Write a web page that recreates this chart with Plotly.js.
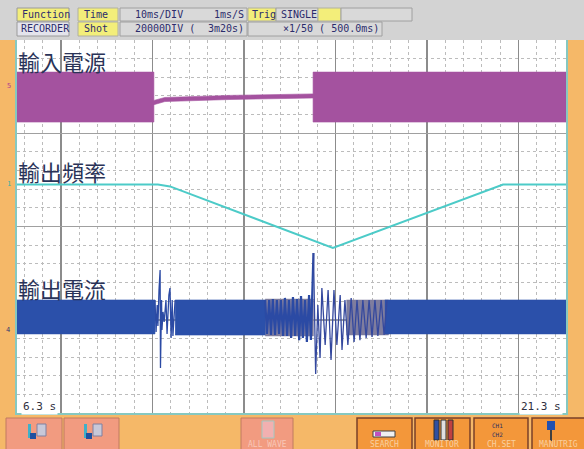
<!DOCTYPE html>
<html><head><meta charset="utf-8">
<script src="https://cdn.plot.ly/plotly-3.0.1.min.js"></script>
<style>html,body{margin:0;padding:0;background:#f5b868;}#chart{width:584px;height:449px;}</style>
</head><body><div id="chart"></div>
<script>
// ---------- data (time in s, value in grid units: 4 divisions x 5) ----------
const timeRange = [6.3, 21.3];
const valueRange = [0, 20];
const timeLabels = ['6.3 s', '21.3 s'];
const channelNames = ['輸入電源', '輸出頻率', '輸出電流'];

// input power envelope (upper edge left->right, lower edge right->left)
const inUpT = [6.3, 10.04, 10.04, 10.34, 12.12, 14.39, 14.39, 21.3];
const inUpV = [18.28, 18.28, 16.76, 16.92, 17.03, 17.11, 18.28, 18.28];
const inLoT = [21.3, 14.39, 14.39, 12.12, 10.34, 10.04, 10.04, 6.3];
const inLoV = [15.60, 15.60, 16.89, 16.81, 16.70, 16.53, 15.60, 15.60];

// output frequency
const freqT = [6.3, 10.15, 10.48, 14.93, 19.58, 21.3];
const freqV = [12.25, 12.25, 12.15, 8.85, 12.25, 12.25];

// output current: steady envelope segments
const curSegStart = [6.3, 10.62, 16.35];
const curSegEnd   = [10.07, 13.08, 21.3];
const curHi = [6.06, 6.06, 6.06];
const curLo = [4.24, 4.18, 4.24];
// beat (grey) envelope segments
const beatSegStart = [13.08, 15.30];
const beatSegEnd   = [14.40, 16.45];
const beatHi = [6.11, 6.06];
const beatLo = [4.13, 4.18];
// transient 1 oscillation
const osc1T = [10.07,10.10,10.13,10.15,10.18,10.21,10.22,10.25,10.26,10.29,10.32,10.37,10.40,10.45,10.48,10.51,10.54,10.56,10.62];
const osc1V = [6.06,4.34,5.79,4.67,6.60,7.67,2.41,6.06,4.45,5.42,4.88,6.06,4.24,6.33,6.70,4.02,6.06,4.13,6.06];
// transient 2 oscillation: build-up before the spike
const osc2aT = [13.08,13.13,13.19,13.24,13.29,13.35,13.40,13.46,13.51,13.57,13.62,13.68,13.73,13.79,13.84,13.90,13.95,14.01,14.06,14.11,14.17,14.22,14.28,14.33,14.40];
const osc2aV = [6.06,4.24,6.06,4.18,6.11,4.18,6.06,4.24,6.06,4.13,6.17,4.13,6.06,4.02,6.22,4.13,6.11,3.91,6.27,4.02,6.06,3.81,6.33,3.91,8.58];
// transient 2 oscillation: spike and decay
const osc2bT = [14.40,14.46,14.52,14.58,14.63,14.72,14.80,14.88,14.96,15.04,15.13,15.18,15.26,15.34,15.43,15.51,15.59,15.67,15.75,15.84,15.92,16.00,16.08,16.16,16.25,16.33,16.41];
const osc2bV = [8.58,2.09,5.79,2.95,6.70,3.65,6.60,2.84,6.60,3.65,6.33,3.38,6.06,3.65,6.17,3.81,6.06,3.91,6.06,4.02,6.06,4.08,6.06,4.13,6.06,4.18,6.06];

// ---------- geometry helpers (layout only) ----------
const L = 17, T = 40, W = 549, H = 373;
const px = x => (x - L) / W;
const py = y => (T + H - y) / H;
function rect(x0, y0, x1, y1, fill, line, lw) {
  return {type:'rect', xref:'paper', yref:'paper', x0:px(x0), x1:px(x1), y0:py(y1), y1:py(y0),
          fillcolor:fill, line:{color:line || fill, width: lw === undefined ? 1 : lw}, layer:'above'};
}
function txt(x, y, s, o) {
  o = o || {};
  return {xref:'paper', yref:'paper', x:px(x), y:py(y), text:s, showarrow:false,
          xanchor:o.xa || 'left', yanchor:'middle', bgcolor:o.bg,
          font:{family:o.family || 'DejaVu Sans Mono', size:o.size || 10, color:o.color || '#2c2c6c'}};
}

// ---------- traces ----------
const traces = [];
traces.push({x: inUpT.concat(inLoT), y: inUpV.concat(inLoV), mode:'lines', fill:'toself',
             fillcolor:'#a4529f', line:{color:'#a4529f', width:0.6}});
traces.push({x: freqT, y: freqV, mode:'lines', line:{color:'#4ccbc8', width:2}});
beatSegStart.forEach((s, i) => {
  traces.push({x:[s, beatSegEnd[i], beatSegEnd[i], s], y:[beatHi[i], beatHi[i], beatLo[i], beatLo[i]],
               mode:'lines', fill:'toself', fillcolor:'#7f7d9e', line:{color:'#7f7d9e', width:0.5}});
});
curSegStart.forEach((s, i) => {
  traces.push({x:[s, curSegEnd[i], curSegEnd[i], s], y:[curHi[i], curHi[i], curLo[i], curLo[i]],
               mode:'lines', fill:'toself', fillcolor:'#2b50aa', line:{color:'#2b50aa', width:0.6}});
});
traces.push({x: osc1T, y: osc1V, mode:'lines', line:{color:'#2b4aa4', width:1.3}});
traces.push({x: osc2aT, y: osc2aV, mode:'lines', line:{color:'#2b4aa4', width:2.2}});
traces.push({x: osc2bT, y: osc2bV, mode:'lines', line:{color:'#34489e', width:1.3}});

// ---------- decorations ----------
const shapes = [
  rect(0, 0, 584, 40, '#d3d3d3', '#d3d3d3', 0),
  rect(17, 8, 69, 21, '#f3ee7a', '#9a9a9a'),
  rect(17, 22, 69, 36, '#e4e4ec', '#9a9a9a'),
  rect(78, 8, 118, 21, '#f3ee7a', '#b0b0a0'),
  rect(78, 22, 118, 36, '#f3ee7a', '#b0b0a0'),
  rect(120, 8, 247, 21, '#d9d9d9', '#a0a0a0'),
  rect(120, 22, 247, 36, '#d9d9d9', '#a0a0a0'),
  rect(248, 8, 276, 21, '#f3ee7a', '#b0b0a0'),
  rect(276, 8, 318, 21, '#d9d9d9', '#a0a0a0'),
  rect(318, 8, 341, 21, '#f3ee7a', '#b0b0a0'),
  rect(341, 8, 412, 21, '#d9d9d9', '#a0a0a0'),
  rect(248, 22, 382, 36, '#d9d9d9', '#a0a0a0'),
  // bottom buttons
  rect(6, 418, 62, 452, '#f29b80', '#c07a60'),
  rect(64, 418, 119, 452, '#f29b80', '#c07a60'),
  rect(241, 418, 293, 452, '#f29b80', '#c07a60'),
  rect(357, 418, 412, 452, '#f3973a', '#7a4028', 1.5),
  rect(415, 418, 470, 452, '#f3973a', '#7a4028', 1.5),
  rect(474, 418, 528, 452, '#f3973a', '#7a4028', 1.5),
  rect(532, 418, 590, 452, '#f3973a', '#7a4028', 1.5),
  // simple icons
  rect(28, 424, 31, 438, '#3fb0c8', '#3fb0c8', 0),
  rect(30, 433, 36, 439, '#2050a0', '#2050a0', 0),
  rect(37, 424, 46, 436, '#c8c8d8', '#8080a0', 1),
  rect(84, 424, 87, 438, '#3fb0c8', '#3fb0c8', 0),
  rect(86, 433, 92, 439, '#2050a0', '#2050a0', 0),
  rect(93, 424, 102, 436, '#c8c8d8', '#8080a0', 1),
  rect(262, 421, 274, 438, '#f2b0b0', '#a0c8c0', 1),
  rect(373, 431, 395, 437, '#f0f0f0', '#404040', 1),
  rect(375, 432, 381, 436, '#c050c0', '#c050c0', 0),
  rect(434, 420, 439, 440, '#3050a0', '#303030', 1),
  rect(441, 420, 446, 440, '#e0e0e0', '#303030', 1),
  rect(448, 420, 453, 440, '#c04040', '#303030', 1),
  rect(547, 421, 555, 430, '#2050b0', '#2050b0', 0),
  rect(550, 430, 552, 441, '#404040', '#404040', 0)
];

const annotations = [
  txt(20, 15, 'Function'), txt(19, 29, 'RECORDER'),
  txt(82, 15, 'Time'), txt(82, 29, 'Shot'),
  txt(133, 15, '10ms/DIV'), txt(246, 15, '1ms/S', {xa:'right'}),
  txt(133, 29, '20000DIV ('), txt(246, 29, '3m20s)', {xa:'right'}),
  txt(250, 15, 'Trig'), txt(279, 15, 'SINGLE'),
  txt(381, 29, '×1/50 ( 500.0ms)', {xa:'right'}),
  txt(21, 406, timeLabels[0], {size:11, color:'#303040', bg:'#ffffff'}),
  txt(563, 406, timeLabels[1], {xa:'right', size:11, color:'#303040', bg:'#ffffff'}),
  txt(16, 61, channelNames[0], {family:'Noto Sans CJK TC', size:22, color:'#2a3358'}),
  txt(16, 171, channelNames[1], {family:'Noto Sans CJK TC', size:22, color:'#2a3358'}),
  txt(16, 288, channelNames[2], {family:'Noto Sans CJK TC', size:22, color:'#2a3358'}),
  txt(9, 86, '5', {xa:'center', size:7, color:'#b04090'}),
  txt(9, 184, '1', {xa:'center', size:7, color:'#40b0a8'}),
  txt(8, 330, '4', {xa:'center', size:7, color:'#303870'}),
  txt(267, 444, 'ALL WAVE', {xa:'center', size:8, color:'#f8c8b8'}),
  txt(384, 444, 'SEARCH', {xa:'center', size:8, color:'#f8d0a0'}),
  txt(442, 444, 'MONITOR', {xa:'center', size:8, color:'#f8d0a0'}),
  txt(501, 444, 'CH.SET', {xa:'center', size:8, color:'#f8d0a0'}),
  txt(558, 444, 'MANUTRIG', {xa:'center', size:8, color:'#f8d0a0'}),
  txt(490, 425, 'CH1', {size:6, color:'#303060'}),
  txt(490, 434, 'CH2', {size:6, color:'#303060'})
];

const axisCommon = {showticklabels:false, ticks:'', zeroline:false, showline:true, mirror:true,
                    linecolor:'#86c8c0', linewidth:2, gridwidth:1.5, fixedrange:true};
const layout = {
  width:584, height:449,
  margin:{l:L, r:584 - L - W, t:T, b:449 - T - H, pad:0},
  paper_bgcolor:'#f5b868', plot_bgcolor:'#ffffff',
  showlegend:false, hovermode:false,
  xaxis: Object.assign({}, axisCommon, {range:timeRange, tick0:0, dtick:2.5, gridcolor:'#8c8c8c',
         minor:{tick0:0, dtick:0.5, showgrid:true, gridcolor:'#bcbcbc', griddash:'dot', gridwidth:1}}),
  yaxis: Object.assign({}, axisCommon, {range:valueRange, tick0:0, dtick:5, gridcolor:'#a0a0a0',
         minor:{tick0:0, dtick:1, showgrid:true, gridcolor:'#bcbcbc', griddash:'dot', gridwidth:1}}),
  shapes: shapes, annotations: annotations
};
Plotly.newPlot('chart', traces, layout, {staticPlot:true, displayModeBar:false});
</script></body></html>
